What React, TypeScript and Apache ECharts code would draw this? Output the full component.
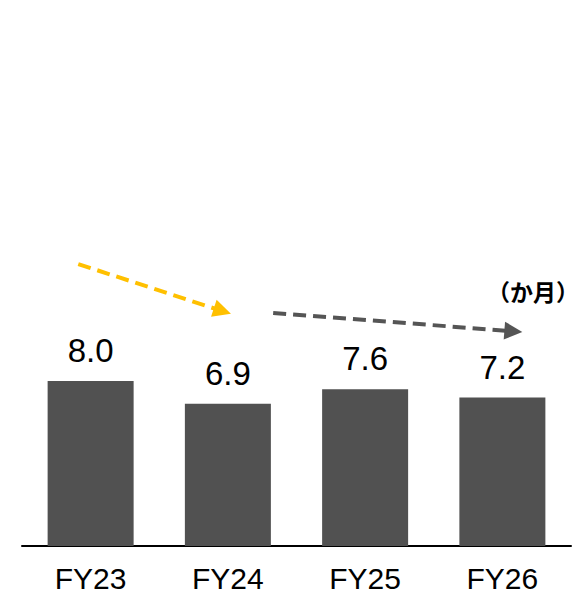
import React, { useEffect, useRef } from "react";
import * as echarts from "echarts";

const categories = ["FY23", "FY24", "FY25", "FY26"];
const values = [8.0, 6.9, 7.6, 7.2];
const unitLabel = "（か月）";
// trend arrows in data coordinates: [category position, value]
const yellowArrow = [[-0.09, 13.67], [0.96, 11.39]];
const grayArrow = [[1.33, 11.3], [3.08, 10.41]];

export default function App() {
  const ref = useRef<HTMLDivElement>(null);
  useEffect(() => {
    if (!ref.current) return;
    document.body.style.margin = "0";
    document.body.style.overflow = "hidden";
    const chart = echarts.init(ref.current, null, { renderer: "svg" });
    const font = "'Liberation Sans', Arial, 'Noto Sans CJK JP', sans-serif";
    chart.setOption({
      animation: false,
      grid: { left: 22, right: 8, top: 216, bottom: 51 },
      xAxis: [
        {
          type: "category",
          data: categories,
          axisLine: { show: true, lineStyle: { color: "#000", width: 2 } },
          axisTick: { show: false },
          axisLabel: { color: "#000", fontSize: 30, lineHeight: 24, fontFamily: font, margin: 20 },
        },
        { type: "value", min: -0.5, max: 3.5, show: false, splitLine: { show: false } },
      ],
      yAxis: {
        type: "value",
        min: 0,
        max: 16,
        show: false,
        splitLine: { show: false },
      },
      graphic: [
        {
          type: "text",
          right: 0,
          top: 279,
          style: { text: unitLabel, fontSize: 23, fill: "#000", fontFamily: "'Noto Sans CJK JP', sans-serif", fontWeight: "bold" },
        },
      ],
      series: [
        {
          type: "bar",
          data: values,
          barWidth: 86,
          itemStyle: { color: "#515151" },
          label: {
            show: true,
            position: "top",
            distance: 14,
            formatter: (p: any) => p.value.toFixed(1),
            color: "#000",
            fontSize: 33,
            fontFamily: font,
          },
        },
        {
          type: "lines",
          coordinateSystem: "cartesian2d",
          xAxisIndex: 1,
          yAxisIndex: 0,
          symbol: ["none", "triangle"],
          symbolSize: [16, 18],
          silent: true,
          data: [
            { coords: yellowArrow, lineStyle: { color: "#FFC000", width: 4, type: [13, 7], opacity: 1 } },
            { coords: grayArrow, lineStyle: { color: "#555555", width: 4, type: [13, 7], opacity: 1 } },
          ],
        },
      ],
    });
    return () => chart.dispose();
  }, []);
  return <div ref={ref} style={{ width: 579, height: 597 }} />;
}
